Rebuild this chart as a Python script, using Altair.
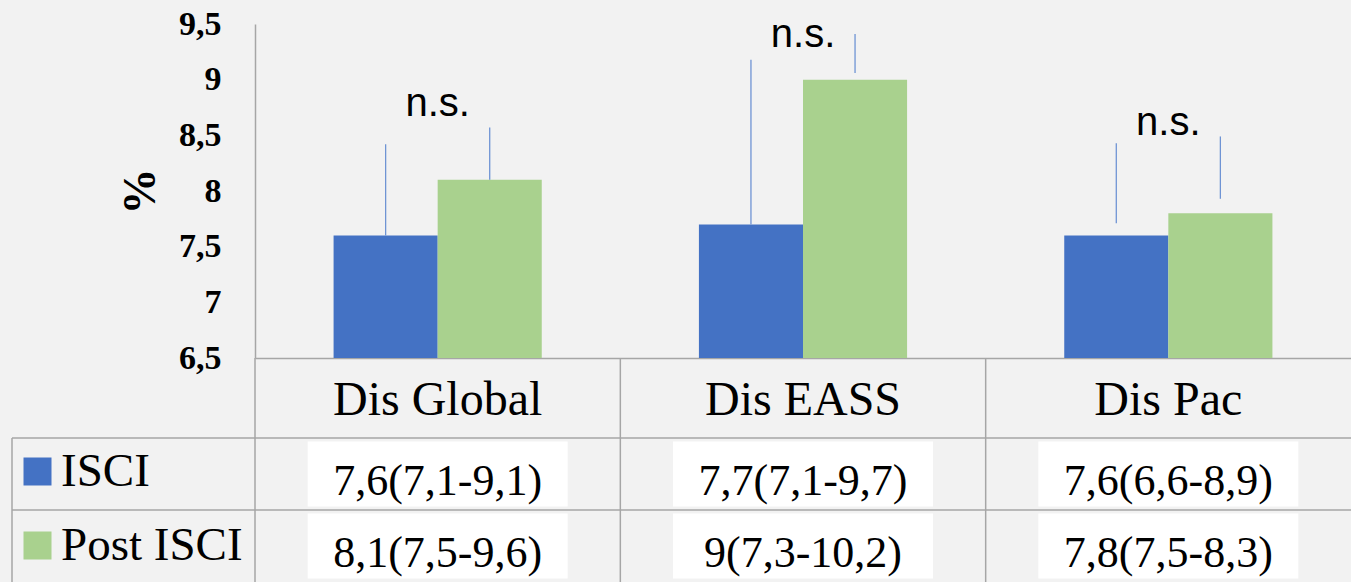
import altair as alt
import pandas as pd

# ---------------- data ----------------
categories = ["Dis Global", "Dis EASS", "Dis Pac"]
series = ["ISCI", "Post ISCI"]
isci_values = [7.6, 7.7, 7.6]
post_values = [8.1, 9.0, 7.8]
isci_err_low = [7.6, 7.7, 7.71]
isci_err_high = [8.42, 9.18, 8.43]
post_err_low = [8.1, 9.06, 7.93]
post_err_high = [8.57, 9.41, 8.49]
isci_labels = ["7,6(7,1-9,1)", "7,7(7,1-9,7)", "7,6(6,6-8,9)"]
post_labels = ["8,1(7,5-9,6)", "9(7,3-10,2)", "7,8(7,5-8,3)"]
ns_labels = ["n.s.", "n.s.", "n.s."]
ns_heights = [8.67, 9.29, 8.50]
y_ticks = [6.5, 7, 7.5, 8, 8.5, 9, 9.5]
colors = ["#4472C4", "#A9D18E"]

SERIF = "Liberation Serif"
SANS = "Liberation Sans"
GRID = "#A6A6A6"

rows = []
for i, c in enumerate(categories):
    rows.append(dict(cat=c, series="ISCI", value=isci_values[i], lo=isci_err_low[i],
                     hi=isci_err_high[i], label=isci_labels[i]))
    rows.append(dict(cat=c, series="Post ISCI", value=post_values[i], lo=post_err_low[i],
                     hi=post_err_high[i], label=post_labels[i]))
df = pd.DataFrame(rows)
ns_df = pd.DataFrame(dict(cat=categories, txt=ns_labels, h=ns_heights))
cat_df = pd.DataFrame(dict(cat=categories))
row_df = pd.DataFrame(dict(series=series))
one_df = pd.DataFrame(dict(k=[0]))

x_scale = alt.Scale(domain=categories, paddingInner=0, paddingOuter=0)
x_axis = alt.Axis(title=None, labelFont=SERIF, labelFontSize=48, labelColor="black",
                  labelPadding=42, labelBaseline="middle", labelAngle=0, ticks=False,
                  domainColor=GRID, domainWidth=1.5, labelLimit=500, grid=False)
x_enc = alt.X("cat:N", sort=categories, scale=x_scale, axis=x_axis)
xoff_enc = alt.XOffset("series:N", sort=series,
                       scale=alt.Scale(domain=series, paddingOuter=0.755, paddingInner=0))

y_scale = alt.Scale(domain=[6.5, 9.5], zero=False, nice=False)
y_axis = alt.Axis(title="%", values=y_ticks,
                  labelExpr="replace(format(datum.value, '~g'), '.', ',')",
                  labelFont=SERIF, labelFontWeight="bold", labelFontSize=34,
                  labelColor="black", labelPadding=34, ticks=False, grid=False,
                  domainColor=GRID, domainWidth=1.5, titleFont=SERIF,
                  titleFontWeight="bold", titleFontSize=46, titleColor="black",
                  titlePadding=14)

color_enc = alt.Color("series:N", sort=series,
                      scale=alt.Scale(domain=series, range=colors),
                      legend=alt.Legend(orient="none", legendX=-241, legendY=424,
                                        title=None, labelFont=SERIF, labelFontSize=47,
                                        labelColor="black", symbolType="square",
                                        symbolSize=784, symbolStrokeWidth=0,
                                        symbolOpacity=1, rowPadding=26, labelOffset=0,
                                        padding=0, labelLimit=400))

bars = alt.Chart(df).mark_bar().encode(
    x=x_enc, xOffset=xoff_enc,
    y=alt.Y("value:Q", scale=y_scale, axis=y_axis),
    y2=alt.datum(6.5),
    color=color_enc,
)
errs = alt.Chart(df).mark_rule(color="#6F94D4", strokeWidth=1.3).encode(
    x=x_enc, xOffset=xoff_enc,
    y=alt.Y("lo:Q", scale=y_scale, axis=y_axis), y2="hi:Q",
)
ns = alt.Chart(ns_df).mark_text(font=SANS, fontSize=40, baseline="alphabetic",
                                align="center", color="black").encode(
    x=x_enc, y=alt.Y("h:Q", scale=y_scale, axis=y_axis), text="txt:N",
)
groupA = alt.layer(bars, errs, ns)

row_scale = alt.Scale(domain=series, range=[414, 558], paddingInner=0, paddingOuter=0)
y_row = alt.Y("series:N", sort=series, scale=row_scale, axis=None)

hlines = alt.Chart(row_df).mark_rule(color=GRID, strokeWidth=1.5).encode(
    y=alt.Y("series:N", sort=series, scale=row_scale, axis=None, bandPosition=0),
    x=alt.value(-243), x2=alt.value(1096),
)
vlines = alt.Chart(cat_df).mark_rule(color=GRID, strokeWidth=1.5).encode(
    x=alt.X("cat:N", sort=categories, scale=x_scale, axis=x_axis, bandPosition=0),
    y=alt.value(334), y2=alt.value(558),
)
border = alt.Chart(one_df).mark_rule(color=GRID, strokeWidth=1.5).encode(
    x=alt.value(-243), y=alt.value(414), y2=alt.value(558),
)
boxes = alt.Chart(df).mark_point(shape="M-1,-0.25H1V0.25H-1Z", size=67600, filled=True,
                                 color="white", opacity=1, strokeWidth=0).encode(
    x=x_enc, y=y_row,
)
cells = alt.Chart(df).mark_text(font=SERIF, fontSize=44, dy=8, baseline="middle",
                                align="center", color="black").encode(
    x=x_enc, y=y_row, text="label:N",
)
groupB = alt.layer(hlines, vlines, border, boxes, cells)

chart = alt.layer(groupA, groupB).resolve_scale(y="independent").properties(
    width=1096, height=334,
    padding={"left": 255, "top": 24, "right": 0, "bottom": 224},
    autosize=alt.AutoSizeParams(type="none"),
    background="#F2F2F2",
).configure_view(stroke=None)

chart.save("out.html", embed_options={"renderer": "svg", "actions": False})
